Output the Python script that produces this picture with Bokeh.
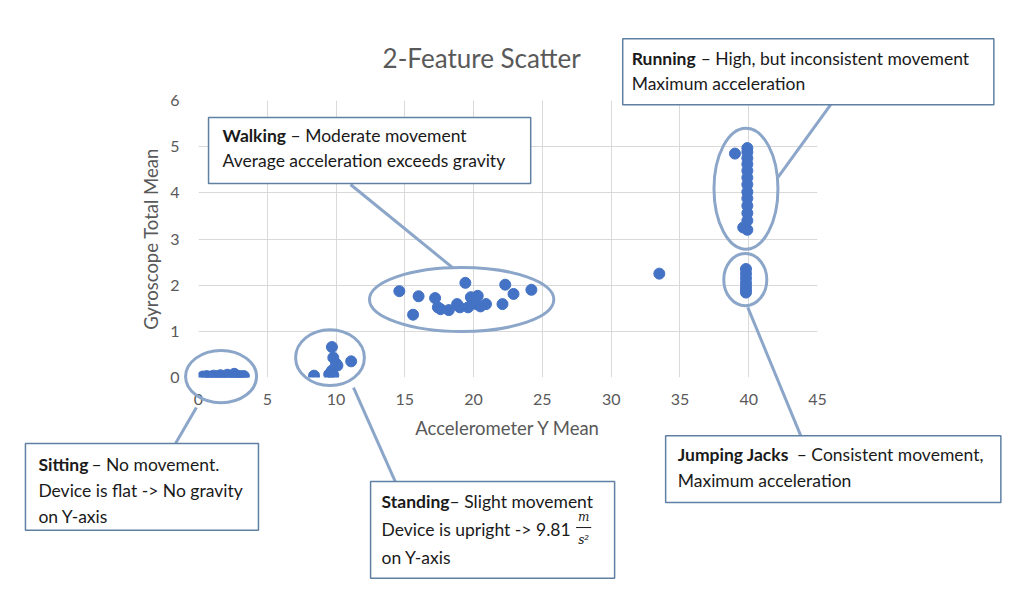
from bokeh.plotting import figure
from bokeh.models import Range1d, FixedTicker
from bokeh.core.properties import value
from bokeh.embed import file_html
from bokeh.resources import INLINE

# ---------------- data ----------------
sitting_x = [0.3, 0.6, 0.9, 1.1, 1.4, 1.6, 1.9, 2.1, 2.3, 2.6, 2.8, 3.0, 3.2, 3.3]
sitting_y = [0.02, 0.03, 0.02, 0.04, 0.03, 0.05, 0.02, 0.06, 0.03, 0.08, 0.04, 0.03, 0.02, 0.03]

standing_x = [8.4, 9.5, 9.7, 9.8, 9.7, 10.1, 9.8, 10.0, 11.1]
standing_y = [0.04, 0.07, 0.15, 0.43, 0.66, 0.26, 0.05, 0.30, 0.35]

walking_x = [14.6, 16.0, 15.6, 17.2, 17.4, 17.6, 18.2, 18.8, 19.0, 19.4,
             19.6, 19.8, 20.2, 20.3, 20.5, 20.9, 22.1, 22.3, 22.9, 24.2]
walking_y = [1.87, 1.76, 1.36, 1.72, 1.52, 1.48, 1.46, 1.59, 1.52, 2.05,
             1.52, 1.74, 1.59, 1.77, 1.54, 1.59, 1.59, 2.01, 1.81, 1.90]

running_x = [39.0, 39.9, 39.9, 39.9, 39.9, 39.9, 39.9, 39.9, 39.9, 39.9, 39.9, 39.9, 39.9, 39.6, 39.9]
running_y = [4.85, 4.97, 4.88, 4.75, 4.62, 4.48, 4.33, 4.18, 4.02, 3.88, 3.72, 3.56, 3.40, 3.25, 3.20]

jumping_x = [39.8, 39.8, 39.8, 39.8, 39.8, 39.8, 39.8, 33.5]
jumping_y = [2.35, 2.25, 2.15, 2.05, 1.97, 1.90, 1.84, 2.25]

x_ticks = [0, 5, 10, 15, 20, 25, 30, 35, 40, 45]
y_ticks = [0, 1, 2, 3, 4, 5, 6]

title_text = "2-Feature Scatter"
x_title = "Accelerometer Y Mean"
y_title = "Gyroscope Total Mean"

# ---------------- annotation geometry (data units) ----------------
ell_x = [1.64, 9.56, 19.13, 39.8, 39.75]
ell_y = [0.02, 0.43, 1.69, 4.09, 2.12]
ell_w = [5.16, 5.0, 13.4, 4.65, 3.13]
ell_h = [1.13, 1.21, 1.39, 2.62, 1.13]

lead_x0 = [-1.67, 14.33, 11.05, 45.96, 43.78]
lead_y0 = [-1.43, -2.27, 4.18, 5.91, -1.26]
lead_x1 = [-0.15, 11.27, 18.47, 42.11, 39.93]
lead_y1 = [-0.65, -0.22, 2.38, 4.33, 1.52]

box_l = [-12.58, 12.51, 0.73, 30.84, 33.96]
box_r = [4.36, 30.25, 24.15, 57.82, 58.33]
box_t = [-1.43, -2.25, 5.63, 7.34, -1.26]
box_b = [-3.31, -4.35, 4.20, 5.91, -2.71]

FONT = "Lato"
GREY = "#595959"
BLUE = "#4472C4"
ELL = "#8CA6C9"
BOXC = "#5F80A3"
TXT = "#1A1A1A"
FS = "17.5px"

p = figure(width=1024, height=605, output_backend="svg", toolbar_location=None,
           x_range=Range1d(0, 45), y_range=Range1d(0, 6),
           min_border_left=198, min_border_right=207, min_border_top=100, min_border_bottom=228)
p.outline_line_color = None
p.background_fill_color = "white"
p.border_fill_color = "white"

for ax, ticks in ((p.xaxis, x_ticks), (p.yaxis, y_ticks)):
    ax.ticker = FixedTicker(ticks=ticks)
    ax.axis_line_color = None
    ax.major_tick_line_color = None
    ax.minor_tick_line_color = None
    ax.major_label_text_font = FONT
    ax.major_label_text_font_size = "16px"
    ax.major_label_text_color = GREY
    ax.axis_label_text_font = FONT
    ax.axis_label_text_font_size = "18.5px"
    ax.axis_label_text_font_style = "normal"
    ax.axis_label_text_color = GREY
p.xaxis.axis_label = x_title
p.yaxis.axis_label = y_title
p.xaxis.major_label_standoff = 10
p.xaxis.axis_label_standoff = 9
p.yaxis.major_label_standoff = 13
p.yaxis.axis_label_standoff = 5

p.xgrid.ticker = FixedTicker(ticks=x_ticks)
p.ygrid.ticker = FixedTicker(ticks=y_ticks)
p.grid.grid_line_color = "#D9D9D9"
p.grid.grid_line_width = 1

for xs, ys in ((sitting_x, sitting_y), (standing_x, standing_y), (walking_x, walking_y),
               (running_x, running_y), (jumping_x, jumping_y)):
    p.scatter(xs, ys, size=11, color=BLUE, line_color=BLUE)

p.ellipse(x=ell_x, y=ell_y, width=ell_w, height=ell_h, fill_color=None,
          line_color=ELL, line_width=3, level="annotation")
p.segment(x0=lead_x0, y0=lead_y0, x1=lead_x1, y1=lead_y1, line_color=ELL,
          line_width=3, level="annotation")
p.quad(left=box_l, right=box_r, top=box_t, bottom=box_b, fill_color="white",
       line_color=BOXC, line_width=1.5, level="annotation")


def txt(x, y, t, bold=False, off=0, size=FS, font=FONT, style=None, color=TXT, align="left"):
    st = style if style else ("bold" if bold else "normal")
    p.text(x=[x], y=[y], text=[t], text_font=value(font), text_font_size=value(size),
           text_font_style=value(st), text_baseline=value("middle"), text_align=value(align),
           text_color=color, x_offset=off, level="overlay")


txt(20.58, 6.93, title_text, size="26px", color=GREY, align="center")

# Running
txt(31.49, 6.91, "Running", bold=True)
txt(31.49, 6.91, "\u2013 High, but inconsistent movement", off=69)
txt(31.49, 6.37, "Maximum acceleration")
# Walking
txt(1.75, 5.24, "Walking", bold=True)
txt(1.75, 5.24, "\u2013 Moderate movement", off=68)
txt(1.75, 4.70, "Average acceleration exceeds gravity")
# Sitting
txt(-11.64, -1.88, "Sitting", bold=True)
txt(-11.64, -1.88, "\u2013 No movement.", off=53)
txt(-11.64, -2.45, "Device is flat -> No gravity")
txt(-11.64, -3.01, "on Y-axis")
# Standing
txt(13.31, -2.69, "Standing", bold=True)
txt(13.31, -2.69, "\u2013 Slight movement", off=68)
txt(13.31, -3.29, "Device is upright -> 9.81")
txt(28.0, -3.03, "m", size="12px", font="DejaVu Serif", style="italic", align="center")
txt(28.0, -3.52, "s\u00b2", size="12px", font="DejaVu Serif", style="italic", align="center")
p.segment(x0=[27.45], y0=[-3.25], x1=[28.55], y1=[-3.25], line_color=TXT,
          line_width=1, level="overlay")
txt(13.31, -3.90, "on Y-axis")
# Jumping Jacks
txt(34.84, -1.67, "Jumping Jacks", bold=True)
txt(34.84, -1.67, "\u2013 Consistent movement,", off=119)
txt(34.84, -2.23, "Maximum acceleration")

open("out.html", "w").write(file_html(p, INLINE))
